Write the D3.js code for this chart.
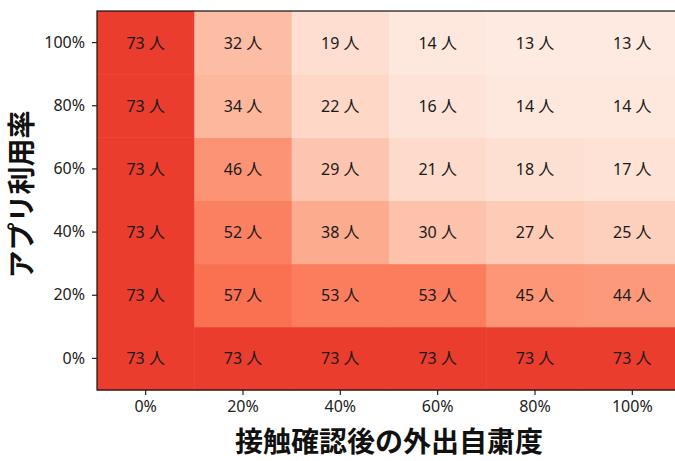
<!DOCTYPE html>
<html>
<head>
<meta charset="utf-8">
<script src="https://cdn.jsdelivr.net/npm/d3@7"></script>
<style>
  body { margin: 0; background: #fff; }
  svg { display: block; font-family: "Noto Sans", "Noto Sans CJK JP", sans-serif; }
</style>
</head>
<body>
<div id="chart"></div>
<script>
// x: 接触確認後の外出自粛度, y: アプリ利用率
const xCats = ["0%", "20%", "40%", "60%", "80%", "100%"];
const yCats = ["0%", "20%", "40%", "60%", "80%", "100%"];
// rows listed from y=0% up to y=100%
const counts = [
  [73, 73, 73, 73, 73, 73],
  [73, 57, 53, 53, 45, 44],
  [73, 52, 38, 30, 27, 25],
  [73, 46, 29, 21, 18, 17],
  [73, 34, 22, 16, 14, 14],
  [73, 32, 19, 14, 13, 13]
];
const xTitle = "接触確認後の外出自粛度";
const yTitle = "アプリ利用率";

const W = 675, H = 461;
const margin = { top: 11, left: 97 };
const plotW = 584, plotH = 379;
const bodyFont = '"Noto Sans", "Noto Sans CJK JP", sans-serif';

const svg = d3.select('#chart').append('svg')
  .attr('width', W).attr('height', H);

const g = svg.append('g')
  .attr('transform', `translate(${margin.left},${margin.top})`);

const x = d3.scaleBand().domain(xCats).range([0, plotW]);
const y = d3.scaleBand().domain(yCats).range([plotH, 0]);
const color = d3.scaleSequential(d3.interpolateReds).domain([6, 113]);

const cells = [];
counts.forEach((row, i) => row.forEach((v, j) => cells.push({ xi: xCats[j], yi: yCats[i], v })));

g.selectAll('rect.cell').data(cells).enter().append('rect')
  .attr('class', 'cell')
  .attr('x', d => x(d.xi))
  .attr('y', d => y(d.yi))
  .attr('width', x.bandwidth() + 0.5)
  .attr('height', y.bandwidth() + 0.5)
  .attr('fill', d => color(d.v));

g.selectAll('text.lab').data(cells).enter().append('text')
  .attr('class', 'lab')
  .attr('x', d => x(d.xi) + x.bandwidth() / 2)
  .attr('y', d => y(d.yi) + y.bandwidth() / 2)
  .attr('text-anchor', 'middle')
  .attr('dominant-baseline', 'central')
  .attr('font-size', 16)
  .attr('fill', '#1a1a1a')
  .text(d => d.v + ' 人');

// frame (right side falls outside the window)
g.append('rect')
  .attr('x', 0).attr('y', 0)
  .attr('width', plotW).attr('height', plotH)
  .attr('fill', 'none').attr('stroke', '#111').attr('stroke-width', 1.2);

const xAxis = g.append('g')
  .attr('transform', `translate(0,${plotH})`)
  .call(d3.axisBottom(x).tickSize(5).tickPadding(6));
const yAxis = g.append('g')
  .call(d3.axisLeft(y).tickSize(5).tickPadding(7));

[xAxis, yAxis].forEach(a => {
  a.select('.domain').remove();
  a.selectAll('line').attr('stroke', '#222').attr('stroke-width', 1.2);
  a.selectAll('text').attr('font-size', 16).attr('fill', '#222')
    .attr('font-family', bodyFont);
});

svg.append('text')
  .attr('x', margin.left + plotW / 2)
  .attr('y', 452)
  .attr('text-anchor', 'middle')
  .attr('font-family', '"Noto Sans CJK JP", sans-serif')
  .attr('font-size', 28)
  .attr('font-weight', 'bold')
  .attr('fill', '#111')
  .text(xTitle);

svg.append('text')
  .attr('transform', `translate(32,${margin.top + plotH / 2 - 6}) rotate(-90)`)
  .attr('text-anchor', 'middle')
  .attr('font-family', '"Noto Sans CJK JP", sans-serif')
  .attr('font-size', 28)
  .attr('font-weight', 'bold')
  .attr('fill', '#111')
  .text(yTitle);
</script>
</body>
</html>
